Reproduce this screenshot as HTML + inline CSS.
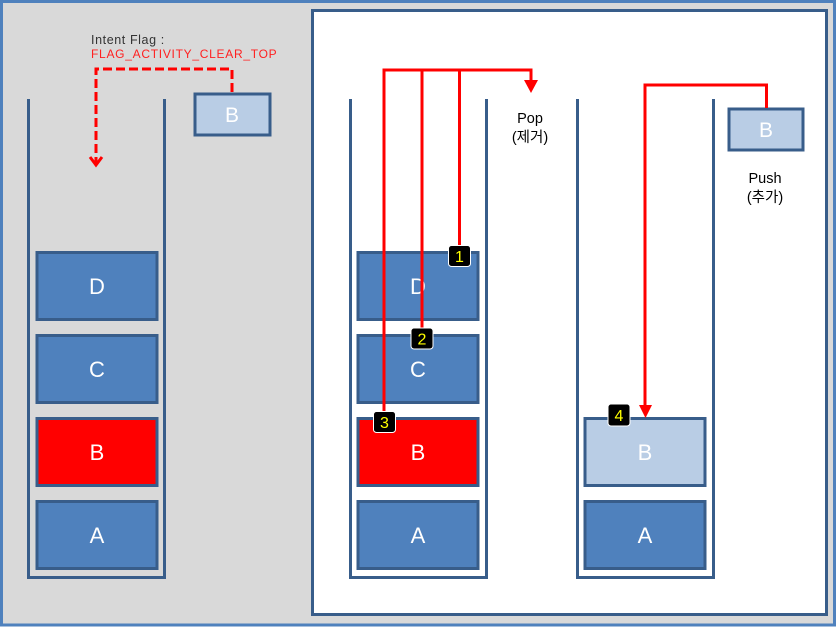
<!DOCTYPE html>
<html><head><meta charset="utf-8"><style>
html,body{margin:0;padding:0;background:#fff;}
svg{display:block;}
text{font-family:"Liberation Sans","Noto Sans CJK KR",sans-serif;}
</style></head><body>
<svg width="837" height="628" viewBox="0 0 837 628" xmlns="http://www.w3.org/2000/svg">
<rect x="1.5" y="1.5" width="833" height="623.5" fill="#d9d9d9" stroke="#4f81bd" stroke-width="3"/>
<rect x="312.5" y="10.5" width="514" height="604" fill="#ffffff" stroke="#385d8a" stroke-width="3"/>

<g fill="none" stroke="#385d8a" stroke-width="3">
<polyline points="28.5,99 28.5,577.5 164.5,577.5 164.5,99"/>
<polyline points="350.5,99 350.5,577.5 486.5,577.5 486.5,99"/>
<polyline points="577.5,99 577.5,577.5 713.5,577.5 713.5,99"/>
</g>

<g stroke="#385d8a" stroke-width="3">
<rect x="37" y="252.5" width="120" height="67" fill="#4f81bd"/>
<rect x="37" y="335.5" width="120" height="67" fill="#4f81bd"/>
<rect x="37" y="418.5" width="120" height="67" fill="#ff0000"/>
<rect x="37" y="501.5" width="120" height="67" fill="#4f81bd"/>

<rect x="358" y="252.5" width="120" height="67" fill="#4f81bd"/>
<rect x="358" y="335.5" width="120" height="67" fill="#4f81bd"/>
<rect x="358" y="418.5" width="120" height="67" fill="#ff0000"/>
<rect x="358" y="501.5" width="120" height="67" fill="#4f81bd"/>

<rect x="585" y="418.5" width="120" height="67" fill="#b9cde5"/>
<rect x="585" y="501.5" width="120" height="67" fill="#4f81bd"/>

<rect x="195" y="94" width="75" height="41" fill="#b9cde5"/>
<rect x="729" y="109" width="74" height="41" fill="#b9cde5"/>
</g>

<g fill="#ffffff" font-size="22" text-anchor="middle">
<text x="97" y="294">D</text>
<text x="97" y="377">C</text>
<text x="97" y="460">B</text>
<text x="97" y="543">A</text>
<text x="418" y="294">D</text>
<text x="418" y="377">C</text>
<text x="418" y="460">B</text>
<text x="418" y="543">A</text>
<text x="645" y="460">B</text>
<text x="645" y="543">A</text>
<text x="232" y="122" font-size="21">B</text>
<text x="766" y="137" font-size="21">B</text>
</g>

<!-- dashed intent arrow -->
<path d="M232,92 V69 H96 V163" fill="none" stroke="#ff0000" stroke-width="3" stroke-dasharray="9,4"/>
<polyline points="90,157 96,165 102,157" fill="none" stroke="#ff0000" stroke-width="3"/>

<text x="91" y="44" font-size="12.5" fill="#333333" letter-spacing="0.6">Intent Flag :</text>
<text x="91" y="58" font-size="12" fill="#ff2020" letter-spacing="0.72">FLAG_ACTIVITY_CLEAR_TOP</text>

<!-- pop lines -->
<g fill="none" stroke="#ff0000" stroke-width="3">
<path d="M384,422 V70 H531 V82"/>
<path d="M422,339 V70"/>
<path d="M459.5,256 V70"/>
<path d="M766.5,108 V85 H645 V407"/>
</g>
<polygon points="524,80 538,80 531,93" fill="#ff0000"/>
<polygon points="639,405 652,405 645.5,418" fill="#ff0000"/>

<!-- badges -->
<g stroke="#ffffff" stroke-width="1" fill="#000000">
<rect x="448.5" y="245.5" width="22" height="21" rx="3"/>
<rect x="411" y="328" width="22" height="21" rx="3"/>
<rect x="373.5" y="411.5" width="22" height="21" rx="3"/>
<rect x="608" y="404" width="22" height="22" rx="3"/>
</g>
<g fill="#ffff00" font-size="16" text-anchor="middle">
<text x="459.5" y="262">1</text>
<text x="422" y="344.5">2</text>
<text x="384.5" y="428">3</text>
<text x="619" y="421">4</text>
</g>

<g fill="#000000" font-size="14.5" text-anchor="middle">
<text x="530" y="123">Pop</text>
<text x="530" y="142">(제거)</text>
<text x="765" y="183">Push</text>
<text x="765" y="202">(추가)</text>
</g>
</svg>
</body></html>
